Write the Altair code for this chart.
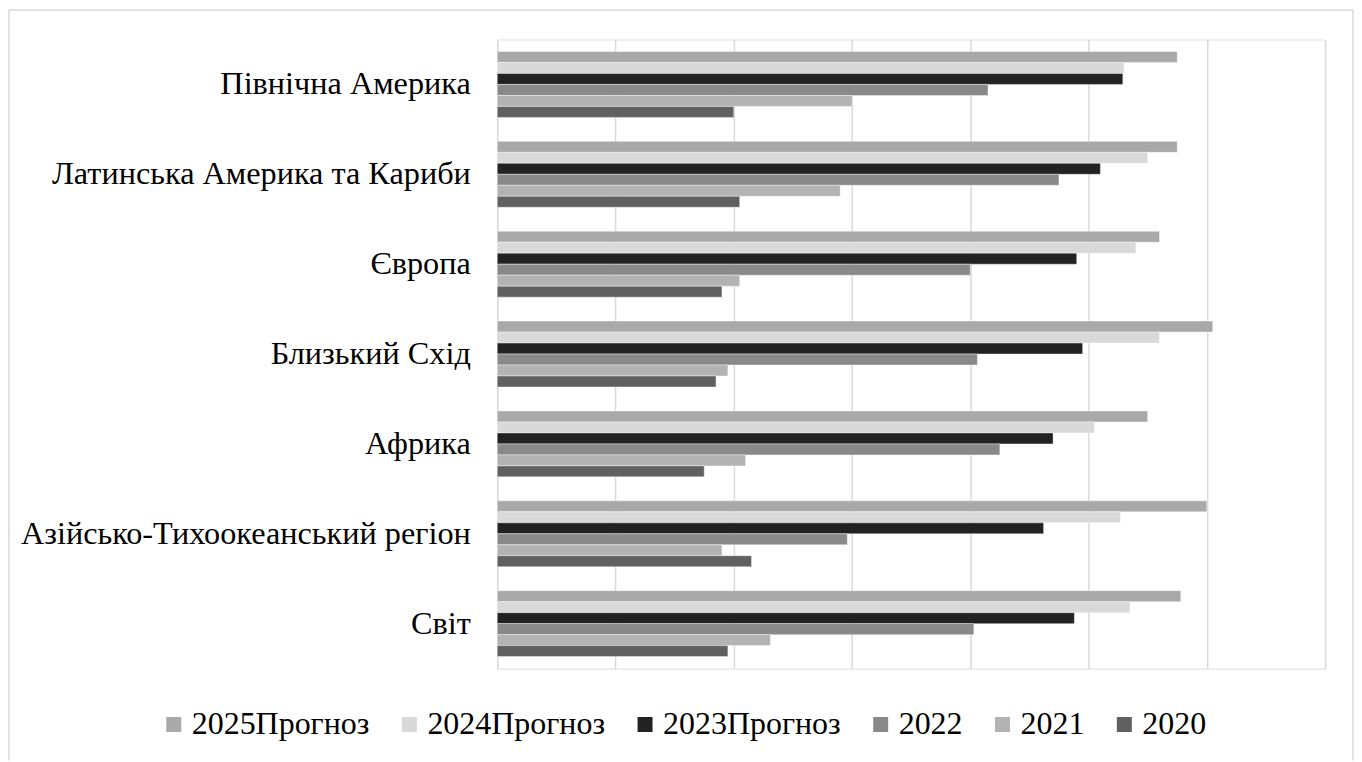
import altair as alt
import pandas as pd

regions = [
    "Північна Америка",
    "Латинська Америка та Кариби",
    "Європа",
    "Близький Схід",
    "Африка",
    "Азійсько-Тихоокеанський регіон",
    "Світ",
]
series = ["2025Прогноз", "2024Прогноз", "2023Прогноз", "2022", "2021", "2020"]
colors = ["#a9a9a9", "#d9d9d9", "#222222", "#898989", "#b3b3b3", "#606060"]

v2025 = [5.75, 5.75, 5.60, 6.05, 5.50, 6.00, 5.78]
v2024 = [5.30, 5.50, 5.40, 5.60, 5.05, 5.27, 5.35]
v2023 = [5.29, 5.10, 4.90, 4.95, 4.70, 4.62, 4.88]
v2022 = [4.15, 4.75, 4.00, 4.06, 4.25, 2.96, 4.03]
v2021 = [3.00, 2.90, 2.05, 1.95, 2.10, 1.90, 2.31]
v2020 = [2.00, 2.05, 1.90, 1.85, 1.75, 2.15, 1.95]
grid_values = [0, 1, 2, 3, 4, 5, 6, 7]

rows = []
for s, vals in zip(series, [v2025, v2024, v2023, v2022, v2021, v2020]):
    for r, v in zip(regions, vals):
        rows.append({"region": r, "series": s, "value": v})
df = pd.DataFrame(rows)

FONT = "Liberation Serif"

bars = alt.Chart(df).mark_bar(stroke="white", strokeWidth=0.4).encode(
    x=alt.X("value:Q",
            scale=alt.Scale(domain=[0, 7], nice=False, zero=True),
            axis=alt.Axis(values=grid_values, labels=False, ticks=False, domain=False,
                          grid=True, gridColor="#d9d9d9", gridWidth=1.5, title=None)),
    y=alt.Y("region:N", sort=regions,
            scale=alt.Scale(paddingInner=0.2667, paddingOuter=0.1333),
            axis=alt.Axis(title=None, ticks=False, domain=False, labelFont=FONT,
                          labelFontSize=32.3, labelColor="#000000", labelPadding=27,
                          labelLimit=600, minExtent=490, maxExtent=490)),
    yOffset=alt.YOffset("series:N", sort=series),
    color=alt.Color("series:N", sort=series,
                    scale=alt.Scale(domain=series, range=colors),
                    legend=alt.Legend(title=None, orient="none", direction="horizontal",
                                      legendX=-340, legendY=670, symbolType="square",
                                      symbolSize=225, symbolStrokeWidth=0,
                                      labelFont=FONT, labelFontSize=32, labelColor="#000000",
                                      labelOffset=2, columnPadding=24, labelLimit=400)),
)

frame_data = alt.Data(values=[{"k": 1}])
frame_left = alt.Chart(frame_data).mark_rule(color="#d9d9d9", strokeWidth=1.5).encode(
    x=alt.value(-489), y=alt.value(-29.5), y2=alt.value(722))
frame_right = alt.Chart(frame_data).mark_rule(color="#d9d9d9", strokeWidth=1.5).encode(
    x=alt.value(857), y=alt.value(-29.5), y2=alt.value(722))
frame_top = alt.Chart(frame_data).mark_rule(color="#d9d9d9", strokeWidth=1.5).encode(
    x=alt.value(-489), x2=alt.value(857), y=alt.value(-29.5))

chart = alt.layer(bars, frame_left, frame_right, frame_top).properties(
    width=829, height=630,
    padding={"left": 0, "top": 0, "right": 0, "bottom": 0},
).configure_view(stroke=None).configure(background="white")

chart.save("out.html", embed_options={"renderer": "svg", "actions": False})
